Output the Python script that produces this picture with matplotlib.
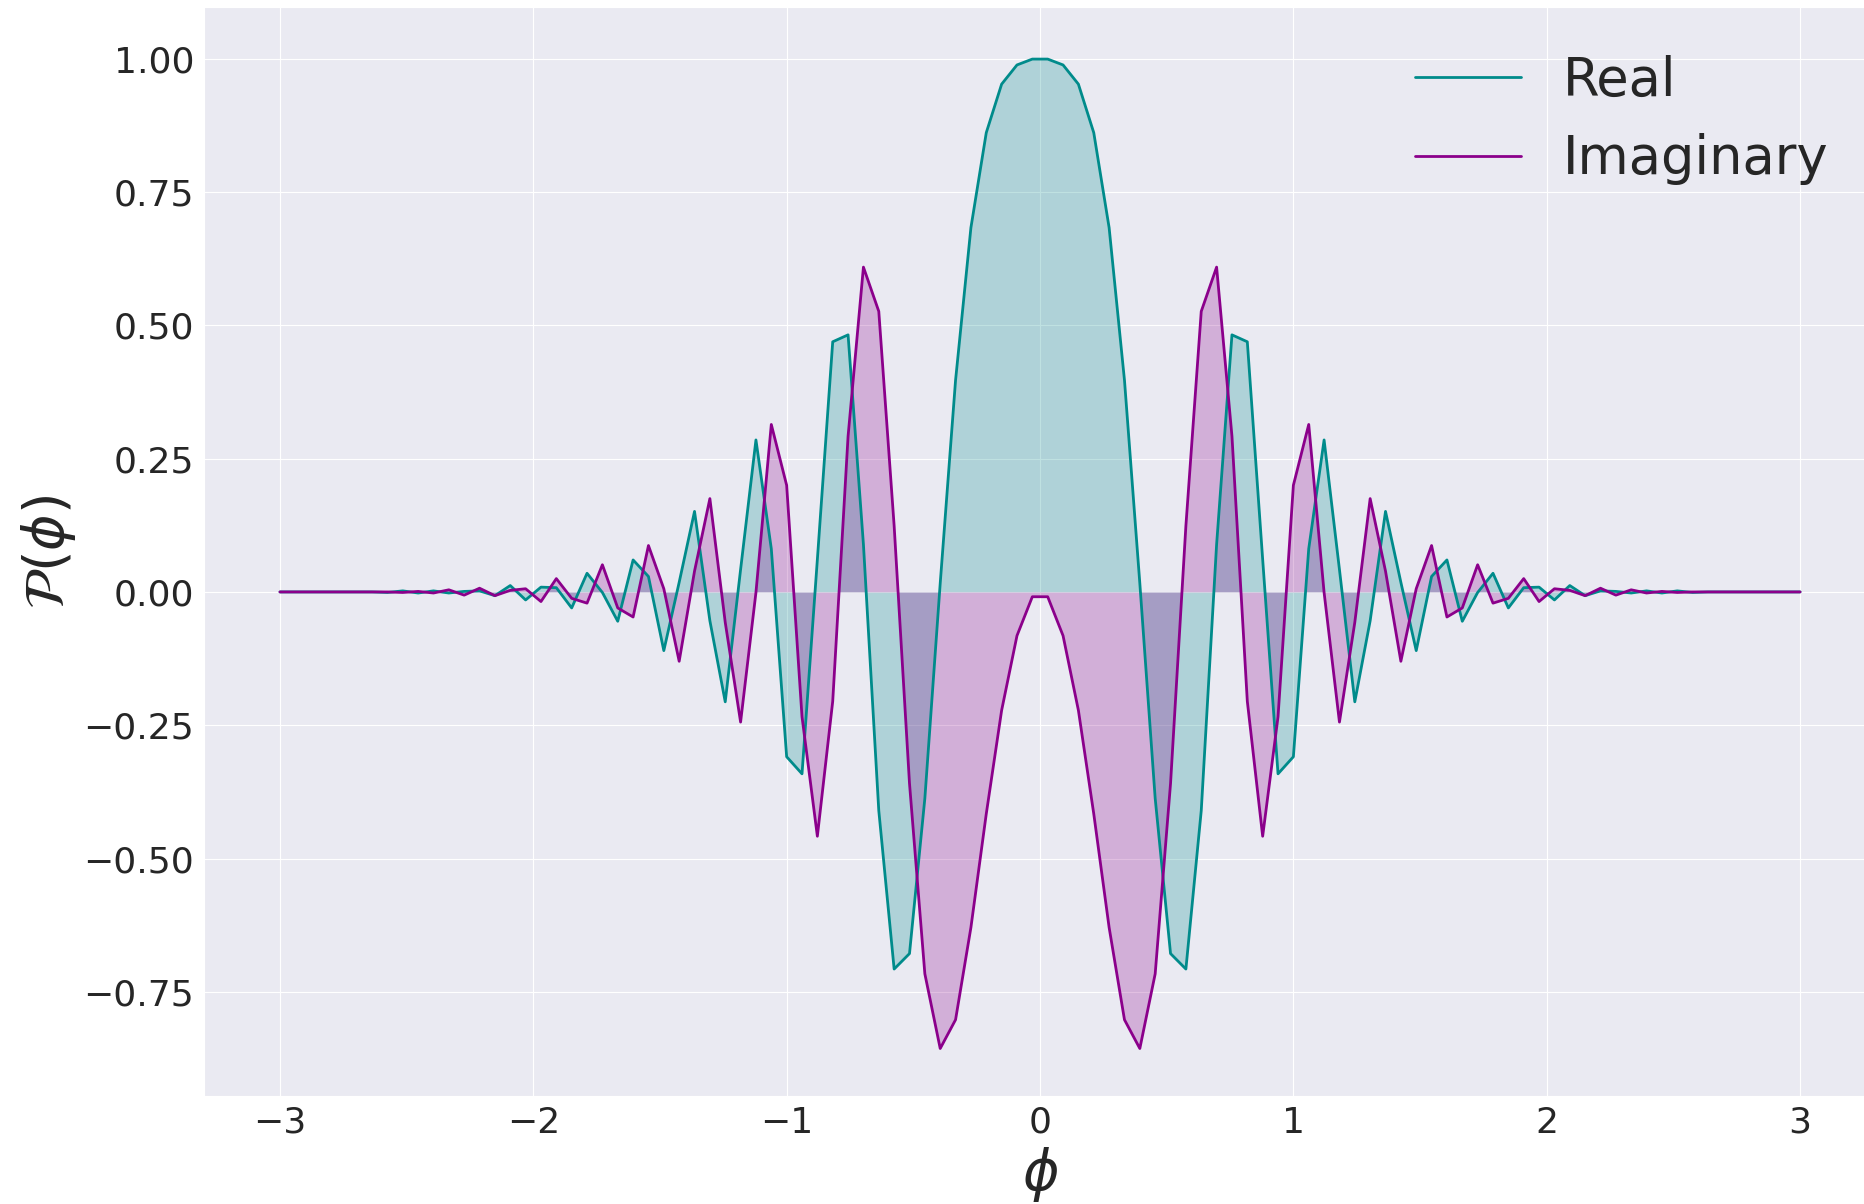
import numpy as np
import matplotlib
matplotlib.use("Agg")
import matplotlib.pyplot as plt
import seaborn as sns

# sample grid of the wave packet
phi = np.linspace(-3, 3, 100)

real_part = [
    0.0, 0.0, 0.0, 0.0, 0.0, 0.0, 0.0, -0.001, 0.002, -0.002,
    0.002, -0.002, 0.001, 0.002, -0.007, 0.012, -0.015, 0.009, 0.008, -0.030,
    0.035, -0.001, -0.055, 0.060, 0.029, -0.110, 0.018, 0.151, -0.054, -0.206,
    0.042, 0.285, 0.081, -0.309, -0.341, 0.061, 0.469, 0.482, 0.089, -0.410,
    -0.707, -0.678, -0.387, 0.016, 0.397, 0.683, 0.861, 0.952, 0.988, 0.999,
    0.999, 0.988, 0.952, 0.861, 0.683, 0.397, 0.016, -0.387, -0.678, -0.707,
    -0.410, 0.089, 0.482, 0.469, 0.061, -0.341, -0.309, 0.081, 0.285, 0.042,
    -0.206, -0.054, 0.151, 0.018, -0.110, 0.029, 0.060, -0.055, -0.001, 0.035,
    -0.030, 0.008, 0.009, -0.015, 0.012, -0.007, 0.002, 0.001, -0.002, 0.002,
    -0.002, 0.002, -0.001, 0.0, 0.0, 0.0, 0.0, 0.0, 0.0, 0.0,
]

imag_part = [
    0.0, 0.0, 0.0, 0.0, 0.0, 0.0, 0.0, 0.0, -0.001, 0.001,
    -0.002, 0.004, -0.006, 0.007, -0.007, 0.003, 0.006, -0.018, 0.025, -0.012,
    -0.021, 0.051, -0.030, -0.047, 0.087, 0.006, -0.130, 0.039, 0.175, -0.057,
    -0.244, -0.001, 0.314, 0.200, -0.234, -0.458, -0.205, 0.292, 0.609, 0.526,
    0.124, -0.359, -0.716, -0.856, -0.802, -0.629, -0.416, -0.222, -0.082, -0.009,
    -0.009, -0.082, -0.222, -0.416, -0.629, -0.802, -0.856, -0.716, -0.359, 0.124,
    0.526, 0.609, 0.292, -0.205, -0.458, -0.234, 0.200, 0.314, -0.001, -0.244,
    -0.057, 0.175, 0.039, -0.130, 0.006, 0.087, -0.047, -0.030, 0.051, -0.021,
    -0.012, 0.025, -0.018, 0.006, 0.003, -0.007, 0.007, -0.006, 0.004, -0.002,
    0.001, -0.001, 0.0, 0.0, 0.0, 0.0, 0.0, 0.0, 0.0, 0.0,
]

sns.set_style("darkgrid")

fig, ax = plt.subplots(figsize=(18.64, 12.04), dpi=100)
fig.subplots_adjust(left=0.1094, right=1.0065, bottom=0.0897, top=0.9939)

ax.plot(phi, real_part, color="darkcyan", lw=2, label="Real")
ax.fill_between(phi, real_part, color="darkcyan", alpha=0.25, lw=0)
ax.plot(phi, imag_part, color="darkmagenta", lw=2, label="Imaginary")
ax.fill_between(phi, imag_part, color="darkmagenta", alpha=0.25, lw=0)

ax.set_xlim(-3.3, 3.3)
ax.set_ylim(-0.945, 1.096)
ax.set_yticks([-0.75, -0.5, -0.25, 0.0, 0.25, 0.5, 0.75, 1.0])
ax.tick_params(labelsize=26)
ax.set_xlabel(r"$\phi$", fontsize=40)
ax.set_ylabel(r"$\mathcal{P}(\phi)$", fontsize=40)
ax.legend(loc="upper right", fontsize=38, frameon=False)

fig.savefig("out.png", dpi=100)
